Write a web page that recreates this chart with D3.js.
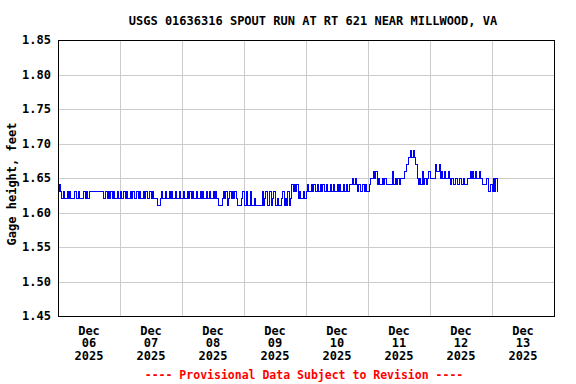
<!DOCTYPE html>
<html lang="en">
  <head>
    <meta charset="UTF-8" />
    <title>USGS 01636316 SPOUT RUN AT RT 621 NEAR MILLWOOD, VA</title>
    <script src="https://d3js.org/d3.v7.min.js"></script>
    <style>
      body { margin: 0; background: #fff; }
      text { font-family: "DejaVu Sans Mono", monospace; font-weight: bold; font-size: 12px; }
    </style>
  </head>
  <body>
    <svg width="576" height="384"></svg>
    <script>
      // gage height readings, one digit per half hour = hundredths of a foot above 1.60
      const dec06 = "343" + "2322323222322322232323" + "3333333333" + "2232323232232";
      const dec07 = "3223232232322323223232232322" + "2112" + "3223223232232232";
      const dec08 = "2322323232232232322323223232" + "1112" + "32312" + "323232" + "111" + "23";
      const dec09 = "11311311211" + "111" + "31231131231121" + "12312131" + "24" + "3434" + "232232";
      const dec10 = "34334343343434334334343343433434334" + "4545434334343";
      const dec11 = "34" + "55" + "656" + "45445454" + "4444" + "6" + "45454" + "555" + "667" + "88" + "989" + "8" + "7" + "5" + "454645456";
      const dec12 = "555" + "576" + "6756" + "565565" + "45445445445445" + "565656556" + "55" + "4445" + "334";
      const dec13 = "35353";
      const days = [dec06, dec07, dec08, dec09, dec10, dec11, dec12, dec13];

      const yTicks = [1.45, 1.5, 1.55, 1.6, 1.65, 1.7, 1.75, 1.8, 1.85];
      const dayLabels = ["06", "07", "08", "09", "10", "11", "12", "13"];

      const marge = { top: 40, bottom: 68, left: 58, right: 22 };
      const svg = d3.select("svg");
      const width = +svg.attr("width");
      const height = +svg.attr("height");
      const w = width - marge.left - marge.right;
      const h = height - marge.top - marge.bottom;

      const HALF = 30 * 60 * 1000;
      const start = Date.UTC(2025, 11, 6);
      const data = [];
      days.forEach((s, di) => {
        s.split("").forEach((c, i) => {
          data.push({ t: new Date(start + di * 48 * HALF + i * HALF), v: 1.6 + (+c) / 100 });
        });
      });

      const xScale = d3.scaleUtc()
        .domain([new Date(start), new Date(Date.UTC(2025, 11, 14))])
        .range([0, w]);
      const yScale = d3.scaleLinear().domain([1.45, 1.85]).range([h, 0]);

      const g = svg.append("g").attr("transform", `translate(${marge.left},${marge.top})`);

      // grid
      const midnights = d3.range(1, 8).map(d => new Date(Date.UTC(2025, 11, 6 + d)));
      g.append("g")
        .attr("transform", `translate(0,${h})`)
        .call(d3.axisBottom(xScale).tickValues(midnights).tickSize(-h).tickFormat(""))
        .call(a => a.select(".domain").remove())
        .selectAll("line").attr("stroke", "#cccccc").attr("shape-rendering", "crispEdges");
      g.append("g")
        .call(d3.axisLeft(yScale).tickValues(yTicks.slice(1, -1)).tickSize(-w).tickFormat(""))
        .call(a => a.select(".domain").remove())
        .selectAll("line").attr("stroke", "#cccccc").attr("shape-rendering", "crispEdges");

      // y labels
      g.append("g")
        .call(d3.axisLeft(yScale).tickValues(yTicks).tickSize(0).tickPadding(7).tickFormat(d3.format(".2f")))
        .call(a => a.select(".domain").remove())
        .selectAll("text")
        .attr("fill", "#000")
        .style("font-family", "'DejaVu Sans Mono', monospace")
        .style("font-weight", "bold")
        .style("font-size", "12px");

      // data line
      const line = d3.line()
        .x(d => xScale(d.t))
        .y(d => yScale(d.v))
        .curve(d3.curveStepAfter);
      g.append("path")
        .datum(data)
        .attr("d", line)
        .attr("fill", "none")
        .attr("stroke", "#0000ff")
        .attr("stroke-width", 1)
        .attr("shape-rendering", "crispEdges");

      // frame
      g.append("rect")
        .attr("width", w).attr("height", h)
        .attr("fill", "none").attr("stroke", "#000")
        .attr("shape-rendering", "crispEdges");

      // x labels at noon
      const xl = g.append("g").attr("transform", `translate(0,${h})`);
      dayLabels.forEach((d, i) => {
        const x = xScale(new Date(Date.UTC(2025, 11, 6 + i, 12)));
        const t = xl.append("text").attr("text-anchor", "middle");
        ["Dec", d, "2025"].forEach((s, k) => {
          t.append("tspan").attr("x", x).attr("y", 18.5 + k * 12.8).text(s);
        });
      });

      // titles
      svg.append("text")
        .attr("x", 313).attr("y", 24.5)
        .attr("text-anchor", "middle")
        .text("USGS 01636316 SPOUT RUN AT RT 621 NEAR MILLWOOD, VA");
      svg.append("text")
        .attr("transform", `translate(15.5,${marge.top + h / 2 + 6}) rotate(-90)`)
        .attr("text-anchor", "middle")
        .text("Gage height, feet");
      svg.append("text")
        .attr("x", 304).attr("y", 379)
        .attr("text-anchor", "middle")
        .attr("fill", "#ff0000")
        .style("font-size", "11.5px")
        .text("---- Provisional Data Subject to Revision ----");
    </script>
  </body>
</html>
